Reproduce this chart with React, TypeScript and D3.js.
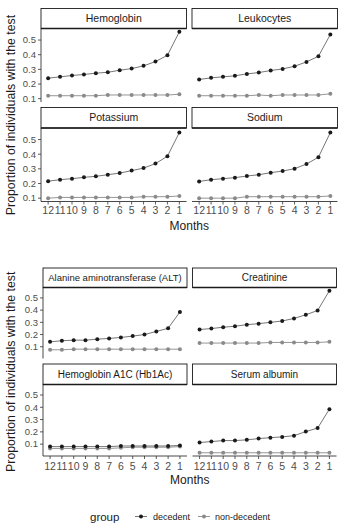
import React from "react";
import * as d3 from "d3";

const months = ["12", "11", "10", "9", "8", "7", "6", "5", "4", "3", "2", "1"];
const yTicks = [0.1, 0.2, 0.3, 0.4, 0.5];
const groups = ["decedent", "non-decedent"];

const hemoglobinDec = [0.24, 0.249, 0.258, 0.265, 0.274, 0.28, 0.294, 0.305, 0.324, 0.353, 0.396, 0.556];
const hemoglobinNon = [0.12, 0.12, 0.12, 0.12, 0.12, 0.125, 0.125, 0.125, 0.125, 0.125, 0.125, 0.13];
const leukocytesDec = [0.231, 0.242, 0.249, 0.256, 0.269, 0.278, 0.292, 0.303, 0.321, 0.351, 0.389, 0.538];
const leukocytesNon = [0.12, 0.12, 0.12, 0.12, 0.12, 0.125, 0.12, 0.125, 0.125, 0.125, 0.125, 0.133];
const potassiumDec = [0.216, 0.226, 0.233, 0.242, 0.249, 0.26, 0.271, 0.288, 0.305, 0.336, 0.386, 0.548];
const potassiumNon = [0.1, 0.105, 0.105, 0.105, 0.105, 0.105, 0.105, 0.105, 0.11, 0.11, 0.11, 0.115];
const sodiumDec = [0.214, 0.226, 0.233, 0.24, 0.251, 0.26, 0.274, 0.285, 0.301, 0.333, 0.379, 0.548];
const sodiumNon = [0.1, 0.1, 0.1, 0.1, 0.11, 0.11, 0.11, 0.11, 0.11, 0.11, 0.11, 0.115];

const altDec = [0.14, 0.149, 0.154, 0.154, 0.162, 0.168, 0.176, 0.187, 0.2, 0.225, 0.251, 0.385];
const altNon = [0.075, 0.075, 0.08, 0.08, 0.08, 0.08, 0.08, 0.08, 0.08, 0.08, 0.08, 0.08];
const creatinineDec = [0.241, 0.249, 0.26, 0.268, 0.281, 0.289, 0.3, 0.311, 0.332, 0.362, 0.397, 0.559];
const creatinineNon = [0.13, 0.13, 0.13, 0.13, 0.13, 0.13, 0.135, 0.135, 0.135, 0.135, 0.135, 0.14];
const hba1cDec = [0.08, 0.08, 0.08, 0.08, 0.08, 0.08, 0.085, 0.085, 0.085, 0.085, 0.085, 0.09];
const hba1cNon = [0.065, 0.065, 0.065, 0.065, 0.065, 0.065, 0.07, 0.075, 0.075, 0.075, 0.075, 0.08];
const albuminDec = [0.113, 0.121, 0.129, 0.129, 0.135, 0.145, 0.153, 0.159, 0.169, 0.202, 0.231, 0.385];
const albuminNon = [0.03, 0.03, 0.03, 0.03, 0.03, 0.03, 0.03, 0.03, 0.03, 0.03, 0.03, 0.03];

const figure1Tests = ["Hemoglobin", "Leukocytes", "Potassium", "Sodium"];
const figure1Dec = [hemoglobinDec, leukocytesDec, potassiumDec, sodiumDec];
const figure1Non = [hemoglobinNon, leukocytesNon, potassiumNon, sodiumNon];
const figure2Tests = ["Alanine aminotransferase (ALT)", "Creatinine", "Hemoglobin A1C (Hb1Ac)", "Serum albumin"];
const figure2Dec = [altDec, creatinineDec, hba1cDec, albuminDec];
const figure2Non = [altNon, creatinineNon, hba1cNon, albuminNon];

const FONT = "'Liberation Sans', Arial, sans-serif";
const DEC_COLOR = "#1a1a1a";
const NON_COLOR = "#8a8a8a";

type Layout = {
  left: number;
  panelW: number;
  gap: number;
  rows: { stripTop: number; panelTop: number; panelBottom: number }[];
  tickLabelY: number;
  titleY: number;
};

function Figure({ tests, dec, non, layout, stripFont }: { tests: string[]; dec: number[][]; non: number[][]; layout: Layout; stripFont: number[] }) {
  const all = [...dec.flat(), ...non.flat()];
  const [mn, mx] = d3.extent(all) as [number, number];
  const pad = (mx - mn) * 0.05;
  const domain = [mn - pad, mx + pad];
  const lineGen = (x: d3.ScalePoint<string>, y: d3.ScaleLinear<number, number>) =>
    d3.line<number>().x((_, i) => x(months[i]) as number).y((v) => y(v));

  const panels = tests.map((name, idx) => {
    const col = idx % 2;
    const row = Math.floor(idx / 2);
    const r = layout.rows[row];
    const x0 = layout.left + col * (layout.panelW + layout.gap);
    const x1 = x0 + layout.panelW;
    const x = d3.scalePoint<string>().domain(months).range([x0, x1]).padding(0.6);
    const y = d3.scaleLinear().domain(domain).range([r.panelBottom, r.panelTop]);
    const lg = lineGen(x, y);
    const isBottom = row === layout.rows.length - 1;
    return (
      <g key={name}>
        <rect x={x0} y={r.stripTop} width={x1 - x0} height={r.panelTop - r.stripTop} fill="#fff" stroke="#1a1a1a" strokeWidth={0.9} />
        <line x1={x0} x2={x1} y1={r.panelTop} y2={r.panelTop} stroke="#1a1a1a" strokeWidth={1.6} />
        <text x={(x0 + x1) / 2} y={(r.stripTop + r.panelTop) / 2} dy="0.35em" textAnchor="middle" fontSize={stripFont[idx]} fill="#1a1a1a" fontFamily={FONT}>
          {name}
        </text>
        {col === 0 && (
          <g>
            <line x1={x0} x2={x0} y1={r.panelTop} y2={r.panelBottom} stroke="#1a1a1a" strokeWidth={0.8} />
            {yTicks.map((t) => (
              <g key={t}>
                <line x1={x0 - 3} x2={x0} y1={y(t)} y2={y(t)} stroke="#333" strokeWidth={0.8} />
                <text x={x0 - 5} y={y(t)} dy="0.35em" textAnchor="end" fontSize={9.5} fill="#4d4d4d" fontFamily={FONT}>
                  {t.toFixed(1)}
                </text>
              </g>
            ))}
          </g>
        )}
        {isBottom && (
          <g>
            <line x1={x0} x2={x1} y1={r.panelBottom} y2={r.panelBottom} stroke="#1a1a1a" strokeWidth={0.8} />
            {months.map((m) => (
              <g key={m}>
                <line x1={x(m)} x2={x(m)} y1={r.panelBottom} y2={r.panelBottom + 3} stroke="#333" strokeWidth={0.8} />
                <text x={x(m)} y={layout.tickLabelY} dy="0.35em" textAnchor="middle" fontSize={10.5} fill="#4d4d4d" fontFamily={FONT}>
                  {m}
                </text>
              </g>
            ))}
          </g>
        )}
        <path d={lg(non[idx]) ?? ""} fill="none" stroke={NON_COLOR} strokeWidth={0.9} />
        {non[idx].map((v, i) => (
          <circle key={"n" + i} cx={x(months[i])} cy={y(v)} r={2} fill={NON_COLOR} />
        ))}
        <path d={lg(dec[idx]) ?? ""} fill="none" stroke={DEC_COLOR} strokeWidth={0.6} />
        {dec[idx].map((v, i) => (
          <circle key={"d" + i} cx={x(months[i])} cy={y(v)} r={2} fill={DEC_COLOR} />
        ))}
      </g>
    );
  });

  const top = layout.rows[0].panelTop;
  const bottom = layout.rows[layout.rows.length - 1].panelBottom;
  const cx = layout.left + layout.panelW + layout.gap / 2;
  return (
    <g>
      {panels}
      <text transform={`translate(15,${(top + bottom) / 2}) rotate(-90)`} textAnchor="middle" fontSize={12.3} fill="#1a1a1a" fontFamily={FONT}>
        Proportion of individuals with the test
      </text>
      <text x={cx} y={layout.titleY} dy="0.35em" textAnchor="middle" fontSize={12} fill="#1a1a1a" fontFamily={FONT}>
        Months
      </text>
    </g>
  );
}

const layout1: Layout = {
  left: 41,
  panelW: 145.5,
  gap: 5.5,
  rows: [
    { stripTop: 8.5, panelTop: 28.5, panelBottom: 102 },
    { stripTop: 107.5, panelTop: 128, panelBottom: 201.5 },
  ],
  tickLabelY: 210,
  titleY: 226,
};

const layout2: Layout = {
  left: 43,
  panelW: 144,
  gap: 5.5,
  rows: [
    { stripTop: 268, panelTop: 287.5, panelBottom: 358.5 },
    { stripTop: 364, panelTop: 384.5, panelBottom: 456 },
  ],
  tickLabelY: 466,
  titleY: 480,
};

export default function App() {
  const legendY = 516.5;
  const legendKeys = [
    { x: 135, tx: 153, color: DEC_COLOR, w: 0.6 },
    { x: 198, tx: 215, color: NON_COLOR, w: 0.9 },
  ];
  return (
    <svg width={345} height={530} style={{ position: "absolute", left: 0, top: 0, background: "#fff" }}>
      <rect width={345} height={530} fill="#fff" />
      <Figure tests={figure1Tests} dec={figure1Dec} non={figure1Non} layout={layout1} stripFont={[10.5, 10.5, 10.5, 10.5]} />
      <Figure tests={figure2Tests} dec={figure2Dec} non={figure2Non} layout={layout2} stripFont={[9.5, 10, 10, 10]} />
      <text x={90} y={legendY} dy="0.35em" fontSize={11.5} fill="#1a1a1a" fontFamily={FONT}>
        group
      </text>
      {groups.map((g, i) => (
        <g key={g}>
          <line x1={legendKeys[i].x} x2={legendKeys[i].x + 12} y1={legendY} y2={legendY} stroke={legendKeys[i].color} strokeWidth={legendKeys[i].w} />
          <circle cx={legendKeys[i].x + 6} cy={legendY} r={2} fill={legendKeys[i].color} />
          <text x={legendKeys[i].tx} y={legendY} dy="0.35em" fontSize={9} fill="#1a1a1a" fontFamily={FONT}>
            {g}
          </text>
        </g>
      ))}
    </svg>
  );
}
